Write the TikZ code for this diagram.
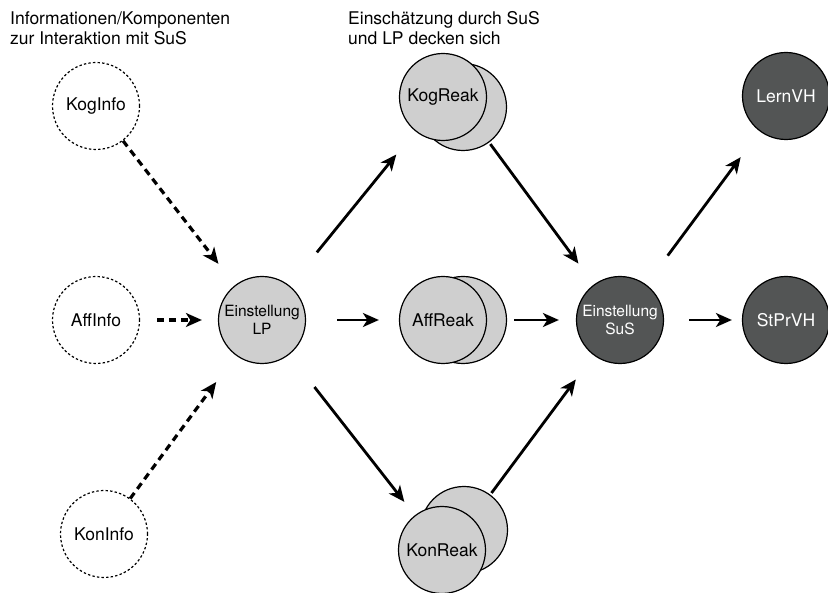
\documentclass[tikz,border=0pt]{standalone}
\usepackage{fontspec}
\setmainfont{TeX Gyre Heros}
\usepackage{tikz}
\usetikzlibrary{arrows.meta}

\definecolor{reakgray}{RGB}{207,207,207}
\definecolor{susgray}{RGB}{83,85,85}

\begin{document}
\begin{tikzpicture}[
  x=1pt, y=-1pt,
  node distance = 180pt,
  bnode/.style={circle, minimum size=87pt, inner sep=0pt, text centered, line width=1.2pt, font=\fontsize{17.5}{20}\selectfont},
  infonode/.style={bnode, draw=black, dash pattern=on 2.4pt off 2.2pt},
  reaknode/.style={bnode, draw=black, fill=reakgray},
  susnode/.style={bnode, draw=black, fill=susgray, text=white},
  einst/.style={align=center, font=\fontsize{15.5}{18}\selectfont},
  hdr/.style={anchor=north west, inner sep=0pt, align=left, font=\fontsize{17.5}{20}\selectfont},
  arw/.style={-{Stealth[length=16pt, width=14pt, inset=4.5pt]}, line width=2.8pt},
  darw/.style={arw, line width=3.2pt, dash pattern=on 7pt off 5pt}
  ]

\useasboundingbox (0,0) rectangle (828,593);

\node [hdr] (hinfo) at (10,11) {Informationen/Komponenten\\zur Interaktion mit SuS};
\node [hdr] (hein) at (348,11) {Einschätzung durch SuS\\und LP decken sich};

\node [reaknode, einst] (lp) at (262,320) {Einstellung\\LP};
\node [infonode, left of=lp, node distance=166pt] (affinfo) {AffInfo};
\node [infonode, above of=affinfo, node distance=214pt] (koginfo) {KogInfo};
\node [infonode, below of=affinfo, node distance=214pt, xshift=8pt] (koninfo) {KonInfo};

\node [reaknode, right of=lp, node distance=201pt] (affback) {};
\node [reaknode, left of=affback, node distance=20pt] (affreak) {AffReak};
\node [reaknode, above of=affback, node distance=213pt] (kogback) {};
\node [reaknode, left of=kogback, node distance=20pt, yshift=10pt] (kogreak) {KogReak};
\node [reaknode, below of=affback, node distance=210pt, xshift=1pt] (konback) {};
\node [reaknode, left of=konback, node distance=22pt, yshift=-20pt] (konreak) {KonReak};

\node [susnode, einst, right of=lp, node distance=358pt] (sus) {Einstellung\\SuS};
\node [susnode, right of=sus, node distance=166pt] (stprvh) {StPrVH};
\node [susnode, above of=stprvh, node distance=224pt] (lernvh) {LernVH};

\draw [darw, shorten >=27pt] (koginfo) -- (lp);
\draw [darw, shorten <=17pt, shorten >=16pt] (affinfo) -- (lp);
\draw [darw, shorten >=33pt] (koninfo) -- (lp);

\draw [arw, shorten <=43pt, shorten >=30pt] (lp) -- (kogreak);
\draw [arw, shorten <=31pt, shorten >=20pt] (lp) -- (affreak);
\draw [arw, shorten <=41pt, shorten >=17pt] (lp) -- (konreak);

\draw [arw, shorten <=2pt, shorten >=26pt] (kogback) -- (sus);
\draw [arw, shorten <=7pt, shorten >=17pt] (affback) -- (sus);
\draw [arw, shorten <=2pt, shorten >=30pt] (konback) -- (sus);

\draw [arw, shorten <=36pt, shorten >=32pt] (sus) -- (lernvh);
\draw [arw, shorten <=25pt, shorten >=10pt] (sus) -- (stprvh);

\end{tikzpicture}
\end{document}
